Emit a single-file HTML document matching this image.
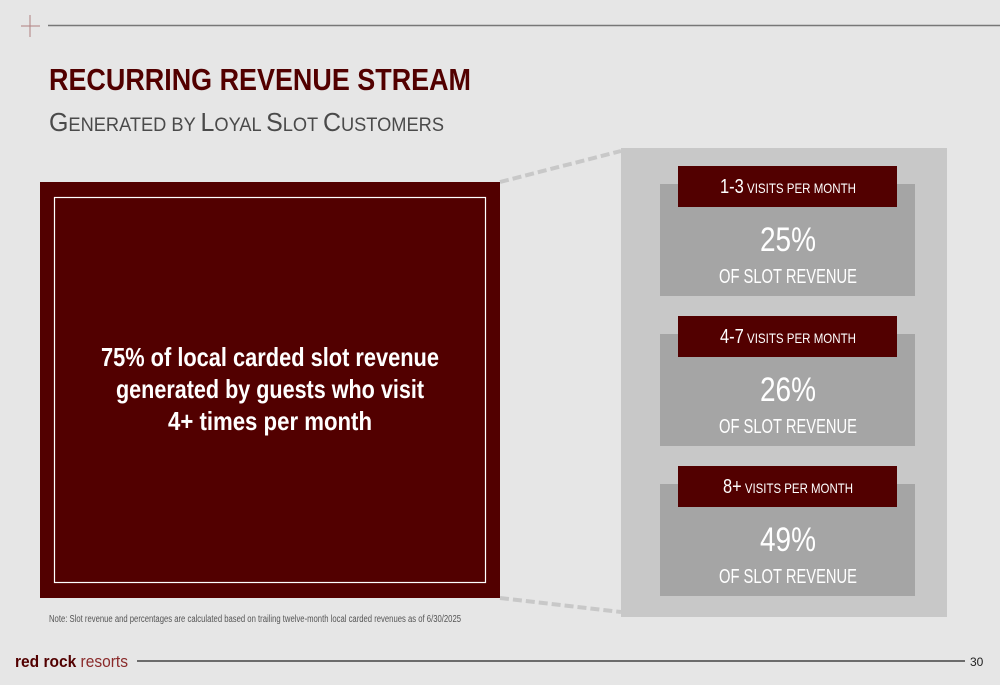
<!DOCTYPE html>
<html><head><meta charset="utf-8"><style>
html,body{margin:0;padding:0;background:#e6e6e6;}
svg{display:block;font-family:"Liberation Sans Narrow","Liberation Sans",sans-serif;}
</style></head><body>
<svg width="1000" height="685" viewBox="0 0 1000 685">
<rect width="1000" height="685" fill="#e6e6e6"/>
<g stroke="#b08080" stroke-width="1">
<line x1="21" y1="26" x2="40" y2="26"/><line x1="30" y1="15" x2="30" y2="37"/>
</g>
<line x1="48" y1="25.5" x2="1000" y2="25.5" stroke="#777" stroke-width="1.5"/>
<text x="49" y="90" fill="#520000" font-weight="bold" font-size="31" textLength="422" lengthAdjust="spacingAndGlyphs">RECURRING REVENUE STREAM</text>
<text x="49" y="131" fill="#4a4a4a" font-size="26" textLength="395" lengthAdjust="spacingAndGlyphs">G<tspan font-size="19">ENERATED BY </tspan>L<tspan font-size="19">OYAL </tspan>S<tspan font-size="19">LOT </tspan>C<tspan font-size="19">USTOMERS</tspan></text>

<g stroke="#c8c8c8" stroke-width="4" stroke-dasharray="9,4">
<line x1="500" y1="182" x2="621" y2="151"/><line x1="500" y1="598" x2="621" y2="612"/>
</g>
<rect x="40" y="182" width="460" height="416" fill="#520000"/>
<rect x="54.5" y="197.5" width="431" height="385" fill="none" stroke="#fff" stroke-width="1.2"/>
<g fill="#fff" font-weight="bold" font-size="26" text-anchor="middle">
<text x="270" y="366" textLength="338" lengthAdjust="spacingAndGlyphs">75% of local carded slot revenue</text>
<text x="270" y="398" textLength="308" lengthAdjust="spacingAndGlyphs">generated by guests who visit</text>
<text x="270" y="430" textLength="204" lengthAdjust="spacingAndGlyphs">4+ times per month</text>
</g>

<rect x="621" y="148" width="326" height="469" fill="#c8c8c8"/>
<g id="cards"></g>

<text x="49" y="622" fill="#555" font-size="10" textLength="412" lengthAdjust="spacingAndGlyphs">Note: Slot revenue and percentages are calculated based on trailing twelve-month local carded revenues as of 6/30/2025</text>

<text x="15" y="667" font-size="17" textLength="113" lengthAdjust="spacingAndGlyphs"><tspan fill="#520000" font-weight="bold">red rock</tspan><tspan fill="#8a2a2a"> resorts</tspan></text>
<line x1="137" y1="661" x2="965" y2="661" stroke="#444" stroke-width="1.5"/>
<text x="970" y="666" font-size="12" fill="#222">30</text>
</svg>
<script>
const segments = ["1-3", "4-7", "8+"];
const shares = [25, 26, 49];
const ns = "http://www.w3.org/2000/svg";
const g = document.getElementById("cards");
function mk(tag, attrs, parent){const e=document.createElementNS(ns,tag);for(const k in attrs)e.setAttribute(k,attrs[k]);parent.appendChild(e);return e;}
segments.forEach((s,i)=>{
  const dy = i*150;
  const grp = mk("g",{},g);
  
  
  mk("rect",{x:660,y:184+dy,width:255,height:112,fill:"#a5a5a5"},grp);
  const lab = mk("rect",{x:678,y:166+dy,width:219,height:41,fill:"#520000"},grp);
  
  
  const t = mk("text",{x:788,y:193+dy,fill:"#fff","text-anchor":"middle",textLength:(s.length>2?136:130),lengthAdjust:"spacingAndGlyphs"},grp);
  
  
  const a = mk("tspan",{"font-size":"20"},t); a.textContent = s;
  const b = mk("tspan",{"font-size":"14"},t); b.textContent = " VISITS PER MONTH";
  const v = mk("text",{x:788,y:251+dy,fill:"#fff","text-anchor":"middle","font-size":"34",textLength:"56",lengthAdjust:"spacingAndGlyphs"},grp);
  
  
  v.textContent = shares[i] + "%";
  const o = mk("text",{x:788,y:283+dy,fill:"#fff","text-anchor":"middle","font-size":"20",textLength:"138",lengthAdjust:"spacingAndGlyphs"},grp);
  
  
  o.textContent = "OF SLOT REVENUE";
});
</script>
</body></html>
